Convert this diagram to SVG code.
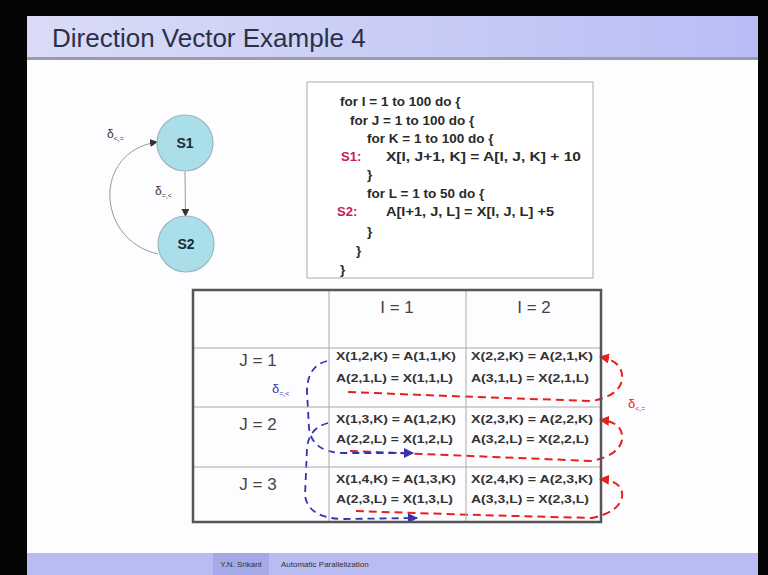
<svg xmlns="http://www.w3.org/2000/svg" width="768" height="575" viewBox="0 0 768 575">
<defs>
<linearGradient id="tg" x1="0" x2="1" y1="0" y2="0"><stop offset="0" stop-color="#dadcf6"/><stop offset="1" stop-color="#b8bef5"/></linearGradient>
<marker id="ag" markerWidth="8" markerHeight="8" refX="7" refY="4" orient="auto" markerUnits="userSpaceOnUse"><path d="M0,0 L8,4 L0,8 z" fill="#333"/></marker>
<marker id="ar" markerWidth="10" markerHeight="10" refX="9" refY="5" orient="auto" markerUnits="userSpaceOnUse"><path d="M0,0 L10,5 L0,10 z" fill="#e8201c"/></marker>
<marker id="ab" markerWidth="10" markerHeight="10" refX="9" refY="5" orient="auto" markerUnits="userSpaceOnUse"><path d="M0,0 L10,5 L0,10 z" fill="#3533a8"/></marker>
</defs>
<style>
.t{font-family:"Liberation Sans",Arial,sans-serif}
.code{font-family:"Liberation Sans",Arial,sans-serif;font-size:13.5px;font-weight:bold;fill:#2a2a2a}
.lab{font-family:"Liberation Sans",Arial,sans-serif;font-size:13px;font-weight:bold;fill:#c0205a}
.cell{font-family:"Liberation Sans",Arial,sans-serif;font-size:11px;font-weight:bold;fill:#333}
.hdr{font-family:"Liberation Sans",Arial,sans-serif;font-size:17px;fill:#444}
.node circle{fill:#aadfea;stroke:#9fb4bc;stroke-width:1.2}
.node text{font-family:"Liberation Sans",Arial,sans-serif;font-size:14px;font-weight:bold;fill:#1e2a36;text-anchor:middle}
.grid{stroke:#aaa;stroke-width:1;fill:none}
.red{stroke:#e8201c;stroke-width:2;stroke-dasharray:8 5;fill:none}
.blue{stroke:#3533a8;stroke-width:1.8;stroke-dasharray:7 5;fill:none}
</style>
<rect width="768" height="575" fill="#050505"/>
<rect x="27" y="16" width="731" height="559" fill="#fdfdff"/>
<rect x="27" y="16" width="731" height="41" fill="url(#tg)"/>
<rect x="27" y="57" width="731" height="3" fill="#9a9caa"/>
<text class="t" x="52" y="47" font-size="26" fill="#2a2f4a">Direction Vector Example 4</text>
<rect x="27" y="553" width="731" height="22" fill="#b8bcf2"/>
<rect x="213" y="553" width="56" height="22" fill="#a4aae8"/>
<text class="t" x="241" y="567" font-size="8" fill="#333" text-anchor="middle">Y.N. Srikant</text>
<text class="t" x="281" y="567" font-size="8" fill="#333">Automatic Parallelization</text>

<g id="connectors">
<line x1="185" y1="171" x2="185.5" y2="216" stroke="#999" stroke-width="1" marker-end="url(#ag)"/>
<path d="M158 254 C 96 240 92 152 157 142" stroke="#999" stroke-width="1" fill="none" marker-end="url(#ag)"/>
<text class="t" x="107" y="138" font-size="12" fill="#333">δ<tspan font-size="7" dy="3">&lt;,=</tspan></text>
<text class="t" x="155" y="195" font-size="12" fill="#333">δ<tspan font-size="7" dy="3">=,&lt;</tspan></text>

<path class="red" d="M348 392 Q 470 397 592 401 Q 619 396 622 380 Q 624 361 600 357" marker-end="url(#ar)"/>
<path class="red" d="M350 451 Q 470 456 592 461 Q 619 455 622 440 Q 624 422 600 420" marker-end="url(#ar)"/>
<path class="red" d="M356 511 Q 470 515 592 518 Q 619 512 622 497 Q 624 481 600 479" marker-end="url(#ar)"/>
<path class="blue" d="M327 361 Q 307 366 307 392 L 309 428 Q 312 453 345 453 L 413 453" marker-end="url(#ab)"/>
<path class="blue" d="M328 423 Q 309 428 307 448 L 305 496 Q 309 519 345 519 L 417 518" marker-end="url(#ab)"/>
<text class="t" x="272" y="393" font-size="13" fill="#3533a8">δ<tspan font-size="7" dy="3">=,&lt;</tspan></text>
<text class="t" x="628" y="408" font-size="13" fill="#e8201c">δ<tspan font-size="7" dy="3">&lt;,=</tspan></text>
</g>

<g id="S1" class="node"><circle cx="185" cy="143" r="28"/><text x="185" y="148">S1</text></g>
<g id="S2" class="node"><circle cx="186" cy="244" r="28"/><text x="186" y="249">S2</text></g>

<g id="code">
<rect x="307" y="82" width="286" height="196" fill="#fff" stroke="#bbb" stroke-width="1.2"/>
<text class="code" x="340" y="106">for I = 1 to 100 do {</text>
<text class="code" x="350" y="125">for J = 1 to 100  do {</text>
<text class="code" x="367" y="143">for K = 1 to 100 do {</text>
<text class="lab" x="341" y="161">S1:</text>
<text class="code" x="386" y="161" textLength="195" lengthAdjust="spacingAndGlyphs">X[I, J+1, K] = A[I, J, K] + 10</text>
<text class="code" x="367" y="179">}</text>
<text class="code" x="367" y="198">for L = 1 to 50 do {</text>
<text class="lab" x="337" y="216">S2:</text>
<text class="code" x="386" y="216" textLength="168" lengthAdjust="spacingAndGlyphs">A[I+1, J, L] = X[I, J, L] +5</text>
<text class="code" x="367" y="236">}</text>
<text class="code" x="356" y="255">}</text>
<text class="code" x="340" y="274">}</text>
</g>

<g id="table">
<line class="grid" x1="193" y1="348" x2="601" y2="348"/>
<line class="grid" x1="193" y1="407" x2="601" y2="407"/>
<line class="grid" x1="193" y1="467" x2="601" y2="467"/>
<line class="grid" x1="329" y1="290" x2="329" y2="522"/>
<line class="grid" x1="466" y1="290" x2="466" y2="522"/>
<rect x="193" y="290" width="408" height="232" fill="none" stroke="#555" stroke-width="2.5"/>
<text class="hdr" x="397" y="313" text-anchor="middle">I = 1</text>
<text class="hdr" x="534" y="313" text-anchor="middle">I = 2</text>
<text class="hdr" x="258" y="366" text-anchor="middle">J = 1</text>
<text class="hdr" x="258" y="430" text-anchor="middle">J = 2</text>
<text class="hdr" x="258" y="490" text-anchor="middle">J = 3</text>
<g lengthAdjust="spacingAndGlyphs">
<text class="cell" x="336" y="360" textLength="120" lengthAdjust="spacingAndGlyphs">X(1,2,K) = A(1,1,K)</text>
<text class="cell" x="336" y="382" textLength="117" lengthAdjust="spacingAndGlyphs">A(2,1,L) = X(1,1,L)</text>
<text class="cell" x="471" y="360" textLength="122" lengthAdjust="spacingAndGlyphs">X(2,2,K) = A(2,1,K)</text>
<text class="cell" x="471" y="382" textLength="118" lengthAdjust="spacingAndGlyphs">A(3,1,L) = X(2,1,L)</text>
<text class="cell" x="336" y="423" textLength="120" lengthAdjust="spacingAndGlyphs">X(1,3,K) = A(1,2,K)</text>
<text class="cell" x="336" y="443" textLength="117" lengthAdjust="spacingAndGlyphs">A(2,2,L) = X(1,2,L)</text>
<text class="cell" x="471" y="423" textLength="122" lengthAdjust="spacingAndGlyphs">X(2,3,K) = A(2,2,K)</text>
<text class="cell" x="471" y="443" textLength="118" lengthAdjust="spacingAndGlyphs">A(3,2,L) = X(2,2,L)</text>
<text class="cell" x="336" y="483" textLength="120" lengthAdjust="spacingAndGlyphs">X(1,4,K) = A(1,3,K)</text>
<text class="cell" x="336" y="503" textLength="117" lengthAdjust="spacingAndGlyphs">A(2,3,L) = X(1,3,L)</text>
<text class="cell" x="471" y="483" textLength="122" lengthAdjust="spacingAndGlyphs">X(2,4,K) = A(2,3,K)</text>
<text class="cell" x="471" y="503" textLength="118" lengthAdjust="spacingAndGlyphs">A(3,3,L) = X(2,3,L)</text>
</g>
</g>
</svg>
